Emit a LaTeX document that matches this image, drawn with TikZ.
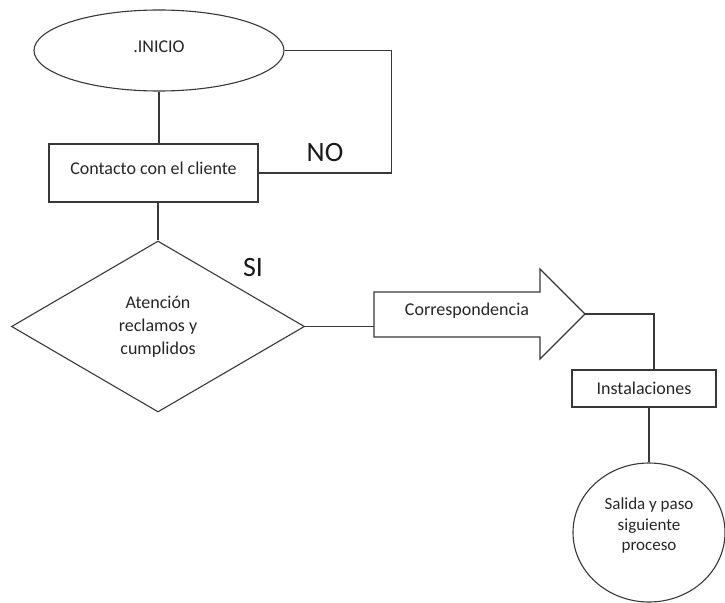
\documentclass[tikz,border=0pt]{standalone}
\usepackage{fontspec}
\setmainfont{Carlito}
\usetikzlibrary{shapes.geometric}
\tikzset{
  line/.style={draw=black!78, line width=1.1pt},
  shapebox/.style={line, inner sep=0pt, text=black!85, font=\fontsize{18}{23}\selectfont},
  yesno/.style={text=black!90, font=\fontsize{28}{30}\selectfont, inner sep=0pt},
}
\begin{document}
\begin{tikzpicture}[x=1pt, y=-1pt]
\useasboundingbox (0,0) rectangle (725,602);
\clip (0,0) rectangle (725,602);

% start terminal
\node[shapebox, ellipse, minimum width=250pt, minimum height=81pt] (inicio) at (159,50.5)
  {\raisebox{7pt}{.INICIO}};

% first process box
\node[shapebox, rectangle, minimum width=209pt, minimum height=58pt] (contacto) at (153.5,173)
  {\raisebox{10pt}{Contacto con el cliente}};

% decision
\node[shapebox, diamond, minimum width=293pt, minimum height=171pt, align=center] (decision) at (158,326.5)
  {Atención\\reclamos y\\cumplidos};

% block arrow with its label
\coordinate (arrowtail) at (374,323);
\coordinate (arrowtip) at (585,314);
\draw[line, line join=miter]
  (374,292) -- (540,292) -- (540,269) -- (arrowtip) -- (540,359) -- (540,337) -- (374,337) -- cycle;
\node[text=black!85, font=\fontsize{18}{20}\selectfont, inner sep=0pt] (corr) at (467,311) {Correspondencia};

% installations box
\node[shapebox, rectangle, minimum width=144pt, minimum height=37pt] (inst) at (644,388.5) {Instalaciones};

% end terminal
\node[shapebox, ellipse, minimum width=152pt, minimum height=139pt, align=center,
      font=\fontsize{17}{20.5}\selectfont] (salida) at (649,532.5)
  {Salida y paso\\siguiente\\proceso\\[-4pt]\mbox{}};

% branch labels
\node[yesno] (no) at (325,153) {NO};
\node[yesno] (si) at (253,268) {SI};

% connectors
\draw[line] (inicio.south) -- (inicio.south |- contacto.north);
\draw[line] (inicio.east) -- ++(107,0) coordinate (loopcorner) |- (contacto.east);
\draw[line] (decision.north |- contacto.south) -- (decision.north);
\draw[line] (decision.east) -- (decision.east -| arrowtail);
\draw[line] (arrowtip) -- ++(69,0) coordinate (drop) -- (drop |- inst.north);
\draw[line] (salida.north |- inst.south) -- (salida.north);
\end{tikzpicture}
\end{document}
